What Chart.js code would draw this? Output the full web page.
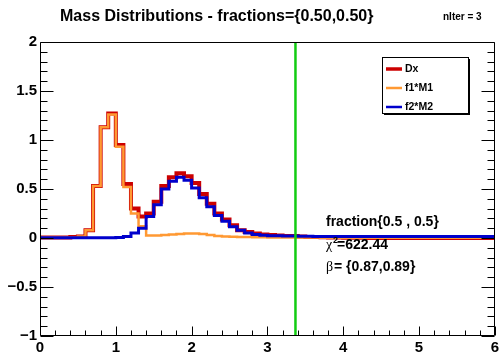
<!DOCTYPE html>
<html><head><meta charset="utf-8">
<script src="https://cdn.jsdelivr.net/npm/chart.js@4/dist/chart.umd.min.js"></script>
<style>html,body{margin:0;padding:0;background:#fff;}canvas{display:block;}</style>
</head><body>
<canvas id="c" width="502" height="354"></canvas>
<script>
const titleText = 'Mass Distributions - fractions={0.50,0.50}';
const iterText = 'nIter = 3';
const seriesNames = ['Dx', 'f1*M1', 'f2*M2'];
const seriesColors = ['#cc0000', '#ff9933', '#0000cc'];
const binLow = 0, binWidth = 0.1;
const dx = [0.005,0.005,0.005,0.005,0.01,0.015,0.08,0.53,1.13,1.27,
            0.95,0.55,0.30,0.22,0.25,0.37,0.53,0.62,0.66,0.63,
            0.56,0.45,0.35,0.25,0.19,0.13,0.08,0.06,0.045,0.035,
            0.03,0.025,0.02,0.02,0.015,0.01,0.01,0.008,0.006,0.005,
            0.003,0.002,0.002,0.001,0.001,0.0,0.0,0.0,0.0,0.0,
            0.0,0.0,0.0,0.0,0.0,0.0,0.0,0.0,0.0,0.0];
const f1m1 = [0.004,0.004,0.004,0.004,0.005,0.015,0.08,0.53,1.13,1.26,
              0.93,0.52,0.25,0.12,0.025,0.025,0.03,0.035,0.04,0.045,
              0.045,0.04,0.03,0.02,0.015,0.012,0.01,0.01,0.008,0.007,
              0.006,0.005,0.005,0.005,0.004,0.004,0.004,0.003,0.003,0.003,
              0.003,0.003,0.002,0.002,0.002,0.002,0.002,0.002,0.002,0.002,
              0.002,0.002,0.002,0.002,0.002,0.002,0.002,0.002,0.002,0.002];
const f2m2 = [0.002,0.002,0.002,0.002,0.002,0.002,0.002,0.002,0.002,0.002,
              0.005,0.015,0.05,0.10,0.22,0.34,0.50,0.58,0.62,0.59,
              0.51,0.41,0.32,0.23,0.17,0.115,0.08,0.05,0.035,0.028,
              0.024,0.022,0.02,0.02,0.018,0.017,0.016,0.016,0.015,0.015,
              0.015,0.015,0.015,0.015,0.015,0.015,0.015,0.015,0.015,0.015,
              0.015,0.015,0.015,0.015,0.015,0.015,0.015,0.015,0.015,0.015];
const cutX = 3.37;
const xRange = [0, 6];
const yRange = [-1, 2];
const xTickValues = [0, 1, 2, 3, 4, 5, 6];
const yTickValues = [-1, -0.5, 0, 0.5, 1, 1.5, 2];
const fitTitle = 'fraction{0.5 , 0.5}';
const chi2Text = '=622.44';
const betaText = '= {0.87,0.89}';

function steps(vals) {
  const pts = vals.map((v, i) => ({x: binLow + i * binWidth, y: v}));
  pts.push({x: binLow + vals.length * binWidth, y: vals[vals.length - 1]});
  return pts;
}

const FONT = '"Liberation Sans", Arial, sans-serif';

const rootPlugin = {
  id: 'rootDecor',
  afterDatasetsDraw(chart) {
    const {ctx, chartArea: a, scales: {x, y}} = chart;
    ctx.save();
    ctx.strokeStyle = '#000';
    ctx.lineWidth = 1;
    const L = Math.round(a.left) + 0.5, R = Math.round(a.right) - 0.5;
    const T = Math.round(a.top) + 0.5, B = Math.round(a.bottom) - 0.5;
    ctx.beginPath();
    ctx.rect(L, T, R - L, B - T);
    ctx.stroke();
    ctx.beginPath();
    for (let k = 0; k <= 30; k++) {
      const v = yRange[0] + k * 0.1;
      const py = Math.round(y.getPixelForValue(v)) + 0.5;
      const len = (k % 5 === 0) ? 13 : 7;
      ctx.moveTo(L, py); ctx.lineTo(L + len, py);
      ctx.moveTo(R, py); ctx.lineTo(R - len, py);
    }
    for (let k = 0; k <= 30; k++) {
      const v = xRange[0] + k * 0.2;
      const px = Math.round(x.getPixelForValue(v)) + 0.5;
      const len = (k % 5 === 0) ? 9 : 5;
      ctx.moveTo(px, B); ctx.lineTo(px, B - len);
    }
    ctx.stroke();
    ctx.restore();
  },
  afterDraw(chart) {
    const {ctx} = chart;
    ctx.save();
    ctx.fillStyle = '#000';
    ctx.textAlign = 'left';
    ctx.textBaseline = 'alphabetic';
    ctx.font = 'bold 16px ' + FONT;
    ctx.fillText(titleText, 60, 21);
    ctx.font = 'bold 10px ' + FONT;
    ctx.fillText(iterText, 443, 20);

    const lx = 382, ly = 57, lw = 86, lh = 56;
    ctx.fillStyle = '#000';
    ctx.fillRect(lx + 2, ly + lh, lw, 2);
    ctx.fillRect(lx + lw, ly + 2, 2, lh);
    ctx.fillStyle = '#fff';
    ctx.fillRect(lx, ly, lw, lh);
    ctx.strokeStyle = '#000';
    ctx.lineWidth = 1;
    ctx.strokeRect(lx + 0.5, ly + 0.5, lw, lh);
    const rowsY = [69, 88, 107];
    const widths = [3.5, 2.5, 2.5];
    ctx.font = 'bold 10.5px ' + FONT;
    ctx.textBaseline = 'middle';
    seriesNames.forEach((n, i) => {
      ctx.strokeStyle = seriesColors[i];
      ctx.lineWidth = widths[i];
      ctx.beginPath();
      ctx.moveTo(386, rowsY[i]); ctx.lineTo(402, rowsY[i]);
      ctx.stroke();
      ctx.fillStyle = '#000';
      ctx.fillText(n, 405, rowsY[i] + 0.5);
    });

    ctx.textBaseline = 'alphabetic';
    ctx.fillStyle = '#000';
    ctx.font = 'bold 14px ' + FONT;
    ctx.fillText(fitTitle, 326, 226);
    ctx.font = '14px "Liberation Serif", serif';
    ctx.fillText('\u03c7', 326, 249);
    ctx.font = 'bold 9px ' + FONT;
    ctx.fillText('2', 333, 243);
    ctx.font = 'bold 14px ' + FONT;
    ctx.fillText(chi2Text, 337, 249);
    ctx.font = '14px "Liberation Serif", serif';
    ctx.fillText('\u03b2', 326, 271);
    ctx.font = 'bold 14px ' + FONT;
    ctx.fillText(betaText, 334, 271);
    ctx.restore();
  }
};

const tickFont = {family: FONT, weight: 'bold', size: 15};

new Chart(document.getElementById('c'), {
  type: 'line',
  data: {
    datasets: [
      {label: seriesNames[0], data: steps(dx), borderColor: seriesColors[0], borderWidth: 4, stepped: 'before', pointRadius: 0, fill: false, order: 3},
      {label: seriesNames[1], data: steps(f1m1), borderColor: seriesColors[1], borderWidth: 2.5, stepped: 'before', pointRadius: 0, fill: false, order: 2},
      {label: seriesNames[2], data: steps(f2m2), borderColor: seriesColors[2], borderWidth: 3, stepped: 'before', pointRadius: 0, fill: false, order: 1},
      {label: 'cut', data: [{x: cutX, y: yRange[0]}, {x: cutX, y: yRange[1]}], borderColor: '#11cc11', borderWidth: 2.5, pointRadius: 0, fill: false, order: 0}
    ]
  },
  options: {
    responsive: false,
    animation: false,
    devicePixelRatio: 1,
    layout: {padding: {top: 42, right: 5, left: 0, bottom: 0}},
    plugins: {legend: {display: false}, tooltip: {enabled: false}, title: {display: false}},
    scales: {
      x: {
        type: 'linear', min: xRange[0], max: xRange[1],
        afterBuildTicks: s => { s.ticks = xTickValues.map(v => ({value: v})); },
        ticks: {font: tickFont, color: '#000', padding: 3, maxRotation: 0, autoSkip: false},
        grid: {display: false, drawTicks: false},
        border: {display: false},
        afterFit: s => { s.height = 18; }
      },
      y: {
        type: 'linear', min: yRange[0], max: yRange[1],
        afterBuildTicks: s => { s.ticks = yTickValues.map(v => ({value: v})); },
        ticks: {font: tickFont, color: '#000', padding: 3, autoSkip: false,
                callback: v => String(v).replace('-', '\u2212')},
        grid: {display: false, drawTicks: false},
        border: {display: false},
        afterFit: s => { s.width = 40; }
      }
    }
  },
  plugins: [rootPlugin]
});
</script>
</body></html>
